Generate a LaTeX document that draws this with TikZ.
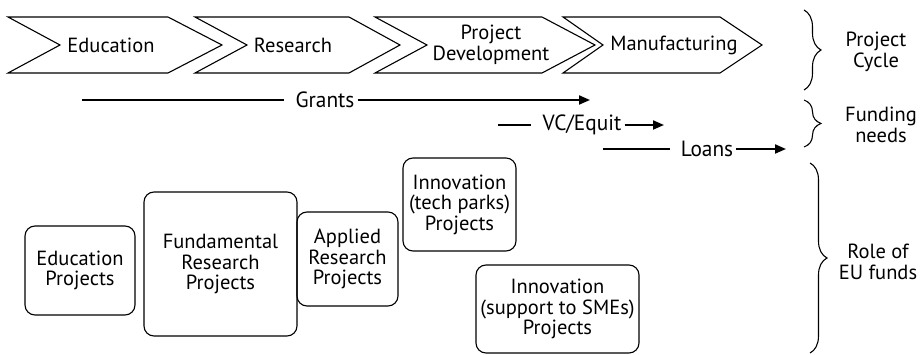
\documentclass[tikz,border=0pt]{standalone}
\usepackage{fontspec}
\setmainfont{PT Sans}
\newfontfamily\narrowfont[FakeStretch=0.97]{PT Sans}
\usetikzlibrary{positioning,arrows.meta,decorations.pathreplacing}

\begin{document}
\begin{tikzpicture}[x=1pt,y=-1pt,font=\fontsize{20.5}{20.5}\selectfont]  %1 unit = 1pt, y runs downward
    \tikzset{chev/.style={line width=1.1pt,line join=miter}};
    \tikzset{proj/.style={draw,line width=1.1pt,rounded corners=10pt,align=center,inner sep=0pt}};
    \tikzset{fund/.style={font=\narrowfont\fontsize{22}{22}\selectfont,inner xsep=3pt,inner ysep=0pt}};
    \tikzset{flow/.style={line width=2pt,-{Triangle[length=11pt,width=9pt]}}};
    \tikzset{cbrace/.style={decorate,decoration={brace,amplitude=17pt},line width=1.1pt}};
    \useasboundingbox (0,0) rectangle (922,355);

    \def\ytop{17};  \def\ymid{45};  \def\ybot{73};   %chevron band top, tip, bottom
    %chevrons: left edge / notch / top right corner / tip
    \foreach \xl/\xn/\xr/\xt in {8/60/168/222, 195/247/349/400, 375/427/542/595, 563/603/720/762}
        \draw[chev] (\xl,\ytop) -- (\xr,\ytop) -- (\xt,\ymid) -- (\xr,\ybot) -- (\xl,\ybot) -- (\xn,\ymid) -- cycle;
    \node (edu) at (111,\ymid) {Education};
    \node (res) at (293,\ymid) {Research};
    \node[align=center] (dev) at (491,\ymid) {Project\\Development};
    \node (man) at (674,\ymid) {Manufacturing};

    %funding lines
    \coordinate(g0) at (82,100);   \coordinate(g1) at (590,100);
    \node[fund] (grants) at (325,100) {Grants};
    \draw[line width=2pt,shorten >=8pt] (g0) -- (grants);
    \draw[flow] (grants) -- (g1);

    \coordinate(v0) at (498,125);  \coordinate(v1) at (664,125);
    \node[fund] (vc) at (582,125) {VC/Equit};
    \draw[line width=2pt,shorten >=8pt] (v0) -- (vc);
    \draw[flow] (vc) -- (v1);

    \coordinate(l0) at (603,149);  \coordinate(l1) at (786,149);
    \node[fund] (loans) at (707,149) {Loans};
    \draw[line width=2pt,shorten >=8pt] (l0) -- (loans);
    \draw[flow] (loans) -- (l1);

    %project boxes
    \node[proj,minimum width=110,minimum height=89] (edup) at (80,270.5) {Education\\Projects};
    \node[proj,minimum width=153,minimum height=144] (fundp) at (220.5,264) {Fundamental\\Research\\Projects};
    \node[proj,minimum width=101,minimum height=94] (appp) at (347.5,259) {Applied\\Research\\Projects};
    \node[proj,minimum width=113,minimum height=93] (techp) at (459.5,204.5) {Innovation\\(tech parks)\\Projects};
    \node[proj,minimum width=163,minimum height=88] (smep) at (557.5,309) {Innovation\\(support to SMEs)\\Projects};

    %braces on the right
    \coordinate(pc0) at (804,10);   \coordinate(pc1) at (804,90);
    \draw[cbrace] (pc0) -- (pc1);
    \node[align=center] (cycle) at (876,52) {Project\\Cycle};

    \coordinate(fn0) at (804,100);  \coordinate(fn1) at (804,147);
    \draw[cbrace] (fn0) -- (fn1);
    \node[align=center] (needs) at (881,125) {Funding\\needs};

    \coordinate(rf0) at (810,163);  \coordinate(rf1) at (810,353);
    \draw[cbrace] (rf0) -- (rf1);
    \node[align=center] (role) at (878,262) {Role of\\EU funds};
\end{tikzpicture}
\end{document}
